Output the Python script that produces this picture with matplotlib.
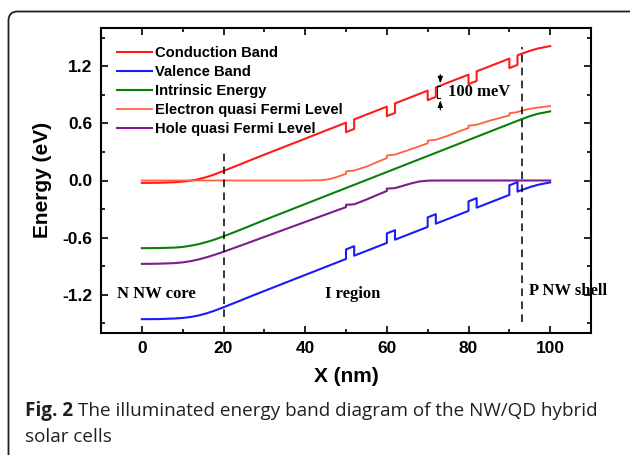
import matplotlib
matplotlib.use("Agg")
import matplotlib.pyplot as plt
from matplotlib.patches import FancyBboxPatch
from matplotlib.ticker import MultipleLocator

# conduction band (dips of 100 meV at the dots)
cb_x = [0, 4, 8, 10, 12, 14, 16, 18, 20, 22, 24, 26, 30, 40, 50, 50, 52, 52, 60, 60, 62, 62,
        70, 70, 72, 72, 80, 80, 82, 82, 90, 90, 92, 92, 93, 95, 97, 100]
cb_y = [-0.025, -0.024, -0.018, -0.012, -0.002, 0.015, 0.038, 0.067, 0.100, 0.134, 0.168, 0.203,
        0.271, 0.439, 0.607, 0.507, 0.541, 0.641, 0.775, 0.675, 0.709, 0.809,
        0.943, 0.843, 0.877, 0.977, 1.111, 1.011, 1.045, 1.145, 1.279, 1.179, 1.213, 1.313,
        1.330, 1.360, 1.385, 1.410]

# valence band (bumps up at the dots)
vb_x = cb_x
vb_y = [-1.455, -1.454, -1.448, -1.442, -1.432, -1.415, -1.392, -1.363, -1.330, -1.296, -1.262,
        -1.227, -1.159, -0.991, -0.823, -0.723, -0.689, -0.789, -0.655, -0.555, -0.521, -0.621,
        -0.487, -0.387, -0.353, -0.453, -0.319, -0.219, -0.185, -0.285, -0.151, -0.051, -0.017,
        -0.117, -0.100, -0.070, -0.045, -0.020]

# intrinsic energy
ie_x = [0, 4, 8, 10, 12, 14, 16, 18, 20, 22, 24, 26, 30, 40, 50, 60, 70, 80, 90, 93, 95, 97, 100]
ie_y = [-0.710, -0.709, -0.704, -0.697, -0.684, -0.667, -0.644, -0.617, -0.586, -0.553, -0.519,
        -0.485, -0.415, -0.247, -0.079, 0.089, 0.257, 0.425, 0.593, 0.643, 0.675, 0.700, 0.725]

# electron quasi Fermi level
ef_x = [0, 20, 40, 44, 46, 48, 50, 50, 52, 55, 58, 60, 60, 62, 65, 68, 70, 70, 72, 75, 78,
        80, 80, 82, 85, 88, 90, 90, 92, 93, 95, 97, 100]
ef_y = [0.0, 0.0, 0.0, 0.003, 0.015, 0.040, 0.070, 0.095, 0.105, 0.145, 0.200, 0.235, 0.262,
        0.272, 0.315, 0.360, 0.390, 0.418, 0.428, 0.470, 0.520, 0.550, 0.575, 0.585, 0.625,
        0.660, 0.682, 0.705, 0.718, 0.732, 0.752, 0.766, 0.780]

# hole quasi Fermi level
hf_x = [0, 4, 8, 10, 12, 14, 16, 18, 20, 22, 24, 26, 30, 40, 45, 48, 50, 50, 52, 55, 58, 60, 60,
        62, 64, 66, 68, 70, 72, 100]
hf_y = [-0.875, -0.873, -0.867, -0.859, -0.846, -0.827, -0.804, -0.777, -0.748, -0.717, -0.686,
        -0.655, -0.592, -0.435, -0.357, -0.310, -0.280, -0.255, -0.250, -0.200, -0.145, -0.110,
        -0.085, -0.080, -0.055, -0.030, -0.010, -0.002, 0.0, 0.0]

labels = ["Conduction Band", "Valence Band", "Intrinsic Energy",
          "Electron quasi Fermi Level", "Hole quasi Fermi Level"]
colors = ["#ff1a1a", "#1a1aff", "#0a800a", "#ff6040", "#7f1a8f"]

fig = plt.figure(figsize=(6.3, 4.55), dpi=100)
ax = fig.add_axes([101/630, 1-333/455, 490/630, 305/455])

lw = 1.5
ax.plot(cb_x, cb_y, color=colors[0], lw=lw, label=labels[0])
ax.plot(vb_x, vb_y, color=colors[1], lw=lw, label=labels[1])
ax.plot(ie_x, ie_y, color=colors[2], lw=lw, label=labels[2])
ax.plot(ef_x, ef_y, color=colors[3], lw=1.3, label=labels[3])
ax.plot(hf_x, hf_y, color=colors[4], lw=lw, label=labels[4])

# region boundaries
ax.plot([20, 20], [-1.43, 0.29], color="k", lw=1.1, ls=(0, (5, 3.5)))
ax.plot([93.2, 93.2], [-1.48, 1.40], color="k", lw=1.1, ls=(0, (5, 3.5)))

# 100 meV marker
ax.annotate("", xy=(73.1, 0.99), xytext=(73.1, 1.14),
            arrowprops=dict(arrowstyle="-|>,head_length=0.4,head_width=0.15", color="k", lw=0.8))
ax.annotate("", xy=(73.1, 0.87), xytext=(73.1, 0.71),
            arrowprops=dict(arrowstyle="-|>,head_length=0.4,head_width=0.15", color="k", lw=0.8))
ax.plot([73.1, 72.2, 72.2, 73.1], [0.99, 0.99, 0.87, 0.87], color="k", lw=0.8)
serif = dict(family="Liberation Serif", weight="bold", size=12)
ax.text(74.9, 0.93, "100 meV", va="center", ha="left", **serif)

ax.text(-6, -1.19, "N NW core", va="center", ha="left", **serif)
ax.text(44.8, -1.19, "I region", va="center", ha="left", **serif)
ax.text(94.7, -1.16, "P NW shell", va="center", ha="left", **serif)

ax.set_xlim(-10, 110)
ax.set_ylim(-1.6, 1.6)
ax.set_xticks([0, 20, 40, 60, 80, 100])
ax.set_yticks([-1.2, -0.6, 0.0, 0.6, 1.2])
ax.set_yticklabels(["-1.2", "-0.6", "0.0", "0.6", "1.2"])
ax.xaxis.set_minor_locator(MultipleLocator(10))
ax.yaxis.set_minor_locator(MultipleLocator(0.3))
ax.tick_params(which="both", direction="in", top=True, right=True, width=1.2)
ax.tick_params(which="major", length=5, pad=6, labelsize=12.5)
ax.tick_params(which="minor", length=3)
for lab in ax.get_xticklabels() + ax.get_yticklabels():
    lab.set_family("Liberation Sans")
    lab.set_weight("bold")
for sp in ax.spines.values():
    sp.set_linewidth(1.5)

ax.legend(loc="upper left", bbox_to_anchor=(0.033, 0.94), frameon=False,
          prop=dict(family="Liberation Sans", weight="bold", size=10.6),
          handlelength=2.38, handletextpad=0.2, labelspacing=0.33,
          borderpad=0, borderaxespad=0)

fig.text(42/630, 1-180/455, "Energy (eV)", rotation=90, ha="center", va="center",
         family="Liberation Sans", weight="bold", size=15)
fig.text(346/630, 1-377/455, "X (nm)", ha="center", va="center",
         family="Liberation Sans", weight="bold", size=15)

# card border
fig.patches.append(FancyBboxPatch((0.085, -1.0), 7.0, 4.435 + 1.0,
                                  boxstyle="round,pad=0,rounding_size=0.09",
                                  transform=fig.dpi_scale_trans, fill=False,
                                  ec="#222222", lw=1.3))

# caption
cap = dict(family="Open Sans", size=13.6, color="#231f20")
t1 = fig.text(25/630, 1-411/455, "Fig. 2", va="center", ha="left", weight="bold", **cap)
fig.canvas.draw()
bb = t1.get_window_extent(fig.canvas.get_renderer())
fig.text(bb.x1/630 + 5/630, 1-411/455,
         "The illuminated energy band diagram of the NW/QD hybrid",
         va="center", ha="left", **cap)
fig.text(25/630, 1-437/455, "solar cells", va="center", ha="left", **cap)

fig.savefig("out.png", dpi=100)
